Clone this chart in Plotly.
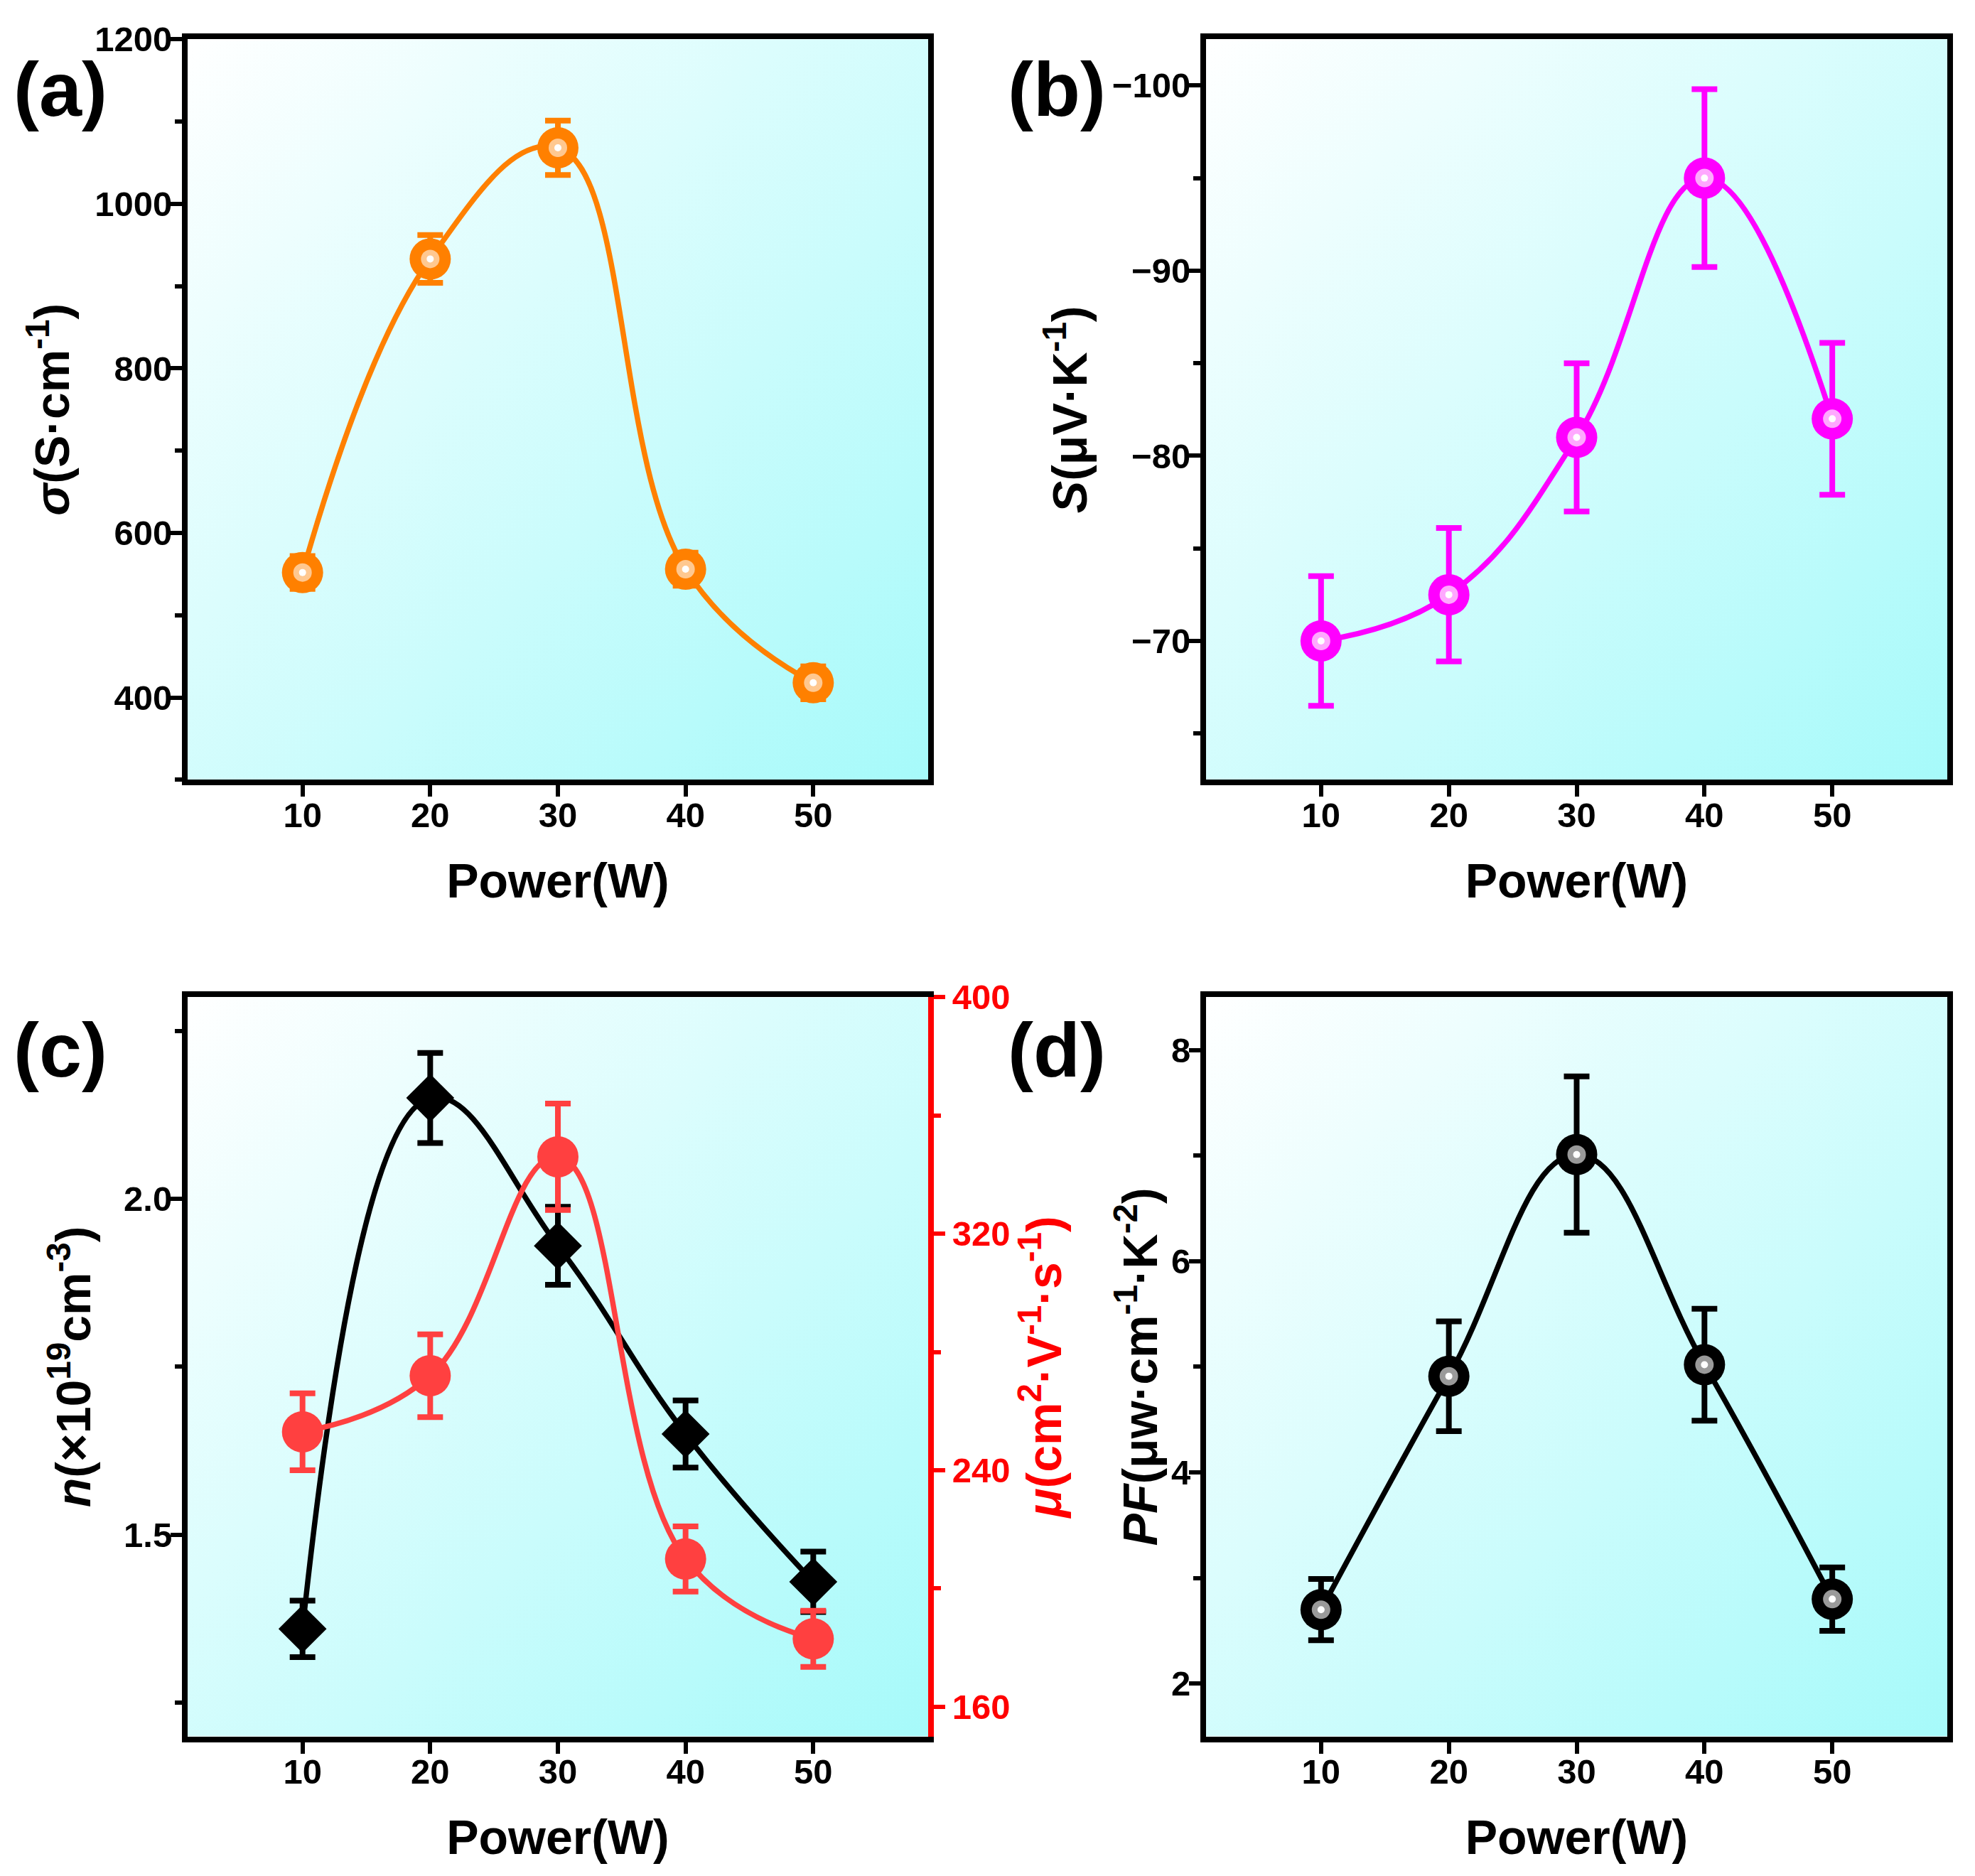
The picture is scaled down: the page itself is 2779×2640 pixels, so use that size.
import base64
import plotly.graph_objects as go

power = [10, 20, 30, 40, 50]

sigma = [552, 933, 1068, 556, 418]
sigma_err = [20, 29, 33, 20, 20]

seebeck = [-70.0, -72.5, -81.0, -95.0, -82.0]
seebeck_err = [3.5, 3.6, 4.0, 4.8, 4.1]

n_conc = [1.36, 2.15, 1.93, 1.65, 1.43]
n_err = [0.042, 0.067, 0.058, 0.05, 0.045]

mobility = [253, 272, 346, 210, 183]
mobility_err = [13, 14, 18, 11, 9.5]

pf = [2.70, 4.91, 7.01, 5.02, 2.80]
pf_err = [0.29, 0.52, 0.74, 0.53, 0.30]

panel_labels = ["(a)", "(b)", "(c)", "(d)"]

FONT = "Liberation Sans"
W, H = 2779 - 16, 2640 - 16
PAD_X = 8

# gradient used as plot background
svg = ('<svg xmlns="http://www.w3.org/2000/svg" width="200" height="200" preserveAspectRatio="none">'
       '<defs><linearGradient id="g" x1="0" y1="0" x2="1" y2="1">'
       '<stop offset="0" stop-color="#ffffff"/><stop offset="1" stop-color="#a6fafa"/>'
       '</linearGradient></defs><rect width="200" height="200" fill="url(#g)"/></svg>')
bg_src = "data:image/svg+xml;base64," + base64.b64encode(svg.encode()).decode()

fig = go.Figure()


def add_series(x, y, err, color, xa, ya, symbol="circle", size=58, shine=None):
    # error bars first so the markers sit on top
    fig.add_trace(go.Scatter(x=x, y=y, mode="markers", xaxis=xa, yaxis=ya,
                             marker=dict(size=1, color=color, opacity=0),
                             error_y=dict(type="data", array=err, color=color, thickness=8, width=18),
                             showlegend=False, hoverinfo="skip"))
    fig.add_trace(go.Scatter(x=x, y=y, mode="lines+markers", xaxis=xa, yaxis=ya,
                             line=dict(color=color, width=7.5, shape="spline", smoothing=1.2),
                             marker=dict(size=size, color=color, symbol=symbol),
                             showlegend=False))
    if shine:
        fig.add_trace(go.Scatter(x=x, y=y, mode="markers", xaxis=xa, yaxis=ya,
                                 marker=dict(size=26, color=shine), showlegend=False, hoverinfo="skip"))
        fig.add_trace(go.Scatter(x=x, y=y, mode="markers", xaxis=xa, yaxis=ya,
                                 marker=dict(size=10, color="white"), showlegend=False, hoverinfo="skip"))


add_series(power, sigma, sigma_err, "#ff8000", "x", "y", shine="#ffc890")
add_series(power, seebeck, seebeck_err, "#ff00ff", "x2", "y2", shine="#ffa8ff")
add_series(power, n_conc, n_err, "black", "x3", "y3", symbol="diamond", size=52)
add_series(power, mobility, mobility_err, "#ff4040", "x3", "y5", size=58)
add_series(power, pf, pf_err, "black", "x4", "y4", shine="#9a9a9a")


def fx(px):
    return (px - PAD_X) / W


def fy(py):
    # page pixel row -> paper fraction
    return 1 - (20.4 + (py - 55) * 1.0097) / H


xdom_l = [fx(264), fx(1306)]
xdom_r = [fx(1697), fx(2740)]
ydom_t = [fy(1098), fy(55)]
ydom_b = [fy(2445), fy(1404)]

tickfont = dict(family=FONT, size=49, color="black", weight="bold")
titlefont = dict(family=FONT, size=68, color="black", weight="bold")


def xaxis(domain, anchor):
    return dict(domain=domain, anchor=anchor, range=[1, 59], tick0=10, dtick=10,
                showline=True, linewidth=8, linecolor="black", mirror=True,
                ticks="outside", ticklen=16, tickwidth=6, tickcolor="black",
                tickfont=tickfont, ticklabelstandoff=-16, showgrid=False, zeroline=False,
                title=dict(text="Power(W)", font=titlefont, standoff=45))


def yaxis(domain, anchor, rng, dtick, mdtick, title, fmt="", mirror=True, standoff=25):
    return dict(domain=domain, anchor=anchor, range=rng, tick0=0, dtick=dtick,
                showline=True, linewidth=8, linecolor="black", mirror=mirror,
                ticks="outside", ticklen=16, tickwidth=6, tickcolor="black",
                minor=dict(ticks="outside", ticklen=10, tickwidth=6, tickcolor="black", dtick=mdtick),
                tickfont=tickfont, ticklabelstandoff=-12, tickformat=fmt,
                showgrid=False, zeroline=False,
                title=dict(text=title, font=titlefont, standoff=standoff))


fig.update_layout(
    width=W, height=H,
    margin=dict(l=0, r=0, t=0, b=0),
    paper_bgcolor="white", plot_bgcolor="rgba(0,0,0,0)",
    xaxis=xaxis(xdom_l, "y"),
    xaxis2=xaxis(xdom_r, "y2"),
    xaxis3=xaxis(xdom_l, "y3"),
    xaxis4=xaxis(xdom_r, "y4"),
    yaxis=yaxis(ydom_t, "x", [300, 1200], 200, 100, "<i>σ</i>(S·cm<sup>-1</sup>)", standoff=16),
    yaxis2=yaxis(ydom_t, "x2", [-62.5, -102.5], 10, 5, "<i>S</i>(μV·K<sup>-1</sup>)", standoff=16),
    yaxis3=yaxis(ydom_b, "x3", [1.2, 2.3], 0.5, 0.25, "<i>n</i>(×10<sup>19</sup>cm<sup>-3</sup>)",
                 fmt=".1f", mirror=False, standoff=27),
    yaxis4=yaxis(ydom_b, "x4", [1.5, 8.5], 2, 1, "<i>PF</i>(μw·cm<sup>-1</sup>·K<sup>-2</sup>)", standoff=0),
    yaxis5=dict(domain=ydom_b, anchor="x3", overlaying="y3", side="right", range=[150, 400],
                tick0=0, dtick=80, showline=True, linewidth=8, linecolor="red",
                ticks="outside", ticklen=16, tickwidth=6, tickcolor="red",
                minor=dict(ticks="outside", ticklen=10, tickwidth=6, tickcolor="red", dtick=40),
                tickfont=dict(family=FONT, size=49, color="red", weight="bold"),
                showgrid=False, zeroline=False,
                title=dict(text="<i>μ</i>(cm<sup>2</sup>·V<sup>-1</sup>·s<sup>-1</sup>)",
                           font=dict(family=FONT, size=68, color="red", weight="bold"), standoff=20)),
)

for xr, yr in [("x", "y"), ("x2", "y2"), ("x3", "y3"), ("x4", "y4")]:
    fig.add_layout_image(dict(source=bg_src, xref=xr + " domain", yref=yr + " domain",
                              x=0, y=1, sizex=1, sizey=1, xanchor="left", yanchor="top",
                              sizing="stretch", layer="below"))

label_pos = [(85, 125), (1487, 125), (85, 1478), (1487, 1478)]
for txt, (px, py) in zip(panel_labels, label_pos):
    fig.add_annotation(text=txt, xref="paper", yref="paper", x=fx(px), y=fy(py),
                       xanchor="center", yanchor="middle", showarrow=False,
                       font=dict(family=FONT, size=108, color="black", weight="bold"))

fig.write_html("out.html")
